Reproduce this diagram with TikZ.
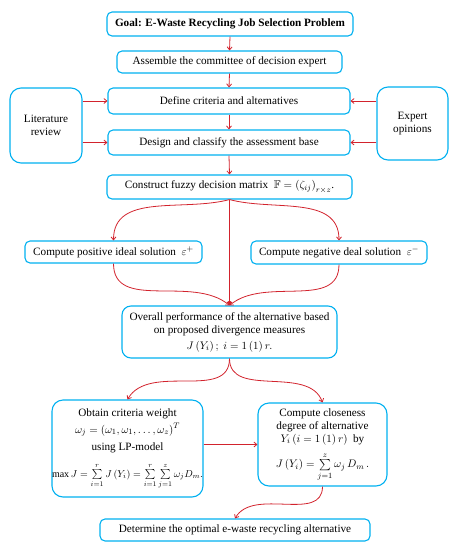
\documentclass[tikz,border=0pt]{standalone}
\usepackage{amsmath,amssymb}
\usepackage{fontspec}
\setmainfont{Liberation Serif}
\usetikzlibrary{arrows.meta}
\definecolor{boxc}{RGB}{0,176,240}
\definecolor{arrc}{RGB}{210,35,45}
\begin{document}
\begin{tikzpicture}[x=1pt,y=-1pt,
  box/.style={draw=boxc, line width=1.1pt, rounded corners=5pt, align=center,
    font=\fontsize{11.2}{13}\selectfont, inner sep=0pt},
  bigbox/.style={box, rounded corners=11pt},
  arr/.style={draw=arrc, line width=0.8pt, -{Straight Barb[length=3pt,width=5pt]}}]
\useasboundingbox (0,0) rectangle (458,550);

\node[box, minimum width=246, minimum height=24, font=\fontsize{11.2}{13}\selectfont\bfseries] (goal) at (230,24) {Goal: E-Waste Recycling Job Selection Problem};
\node[box, minimum width=225, minimum height=22] (assemble) at (229.5,62) {Assemble the committee of decision expert};
\node[box, minimum width=242, minimum height=26] (define) at (229,101) {Define criteria and alternatives};
\node[box, minimum width=242, minimum height=25] (design) at (229,142.5) {Design and classify the assessment base};
\node[bigbox, minimum width=72, minimum height=75] (lit) at (46,125.5) {Literature\\review};
\node[bigbox, minimum width=71, minimum height=73] (exp) at (412.5,123.5) {Expert\\opinions};
\node[box, minimum width=245, minimum height=24] (fuzzy) at (229.5,187) {Construct fuzzy decision matrix \ $\mathbb{F}=\left(\zeta_{ij}\right)_{r\times z}$.};
\node[box, minimum width=177, minimum height=22] (pos) at (113.5,252) {Compute positive ideal solution \ $\varepsilon^{+}$};
\node[box, minimum width=176, minimum height=23] (neg) at (339,252.5) {Compute negative deal solution \ $\varepsilon^{-}$};
\node[bigbox, rounded corners=9pt, minimum width=215, minimum height=52] (over) at (229.5,332) {Overall performance of the alternative based\\on proposed divergence measures\\[3pt] $J\left(Y_i\right);\ i=1\left(1\right)r.$};
\node[bigbox, minimum width=149, minimum height=97] (obtain) at (127.5,448.5) {Obtain criteria weight\\[4pt] $\omega_j=\left(\omega_1,\omega_1,\ldots,\omega_z\right)^{T}$\\[4pt] using LP-model\\[10pt] {\fontsize{10}{12}\selectfont$\max J=\sum\limits_{i=1}^{r}J\left(Y_i\right)=\sum\limits_{i=1}^{r}\sum\limits_{j=1}^{z}\omega_j D_m.$}};
\node[bigbox, minimum width=129, minimum height=83] (close) at (322.5,444.5) {Compute closeness\\degree of alternative\\ $Y_i\left(i=1\left(1\right)r\right)$ \ by\\[7pt] $J\left(Y_i\right)=\sum\limits_{j=1}^{z}\omega_j\, D_m\,.$};
\node[box, minimum width=270, minimum height=22] (det) at (235,530) {Determine the optimal e-waste recycling alternative};

\draw[arr] (goal.south) -- (assemble.north);
\draw[arr] (assemble.south) -- (define.north);
\draw[arr] (define.south) -- (design.north);
\draw[arr] (design.south) -- (fuzzy.north);
\draw[arr] (lit.east |- define.west) -- (define.west);
\draw[arr] (lit.east |- design.west) -- (design.west);
\draw[arr] (exp.west |- define.east) -- (define.east);
\draw[arr] (exp.west |- design.east) -- (design.east);

\draw[arr] (fuzzy.south) to[out=195,in=90] (pos.north);
\draw[arr] (fuzzy.south) to[out=-15,in=90] (neg.north);
\draw[arr] (fuzzy.south) -- (over.north);
\draw[arr] (pos.south) to[out=-90,in=140] (over.north);
\draw[arr] (neg.south) to[out=-90,in=40] (over.north);

\draw[arr] (over.south) to[out=-90,in=60] (obtain.north);
\draw[arr] (over.south) to[out=-90,in=110] (close.north);
\draw[arr] (obtain.east |- close.west) -- (close.west);
\draw[arr] (close.south) to[out=-90,in=60] (det.north);
\end{tikzpicture}
\end{document}
